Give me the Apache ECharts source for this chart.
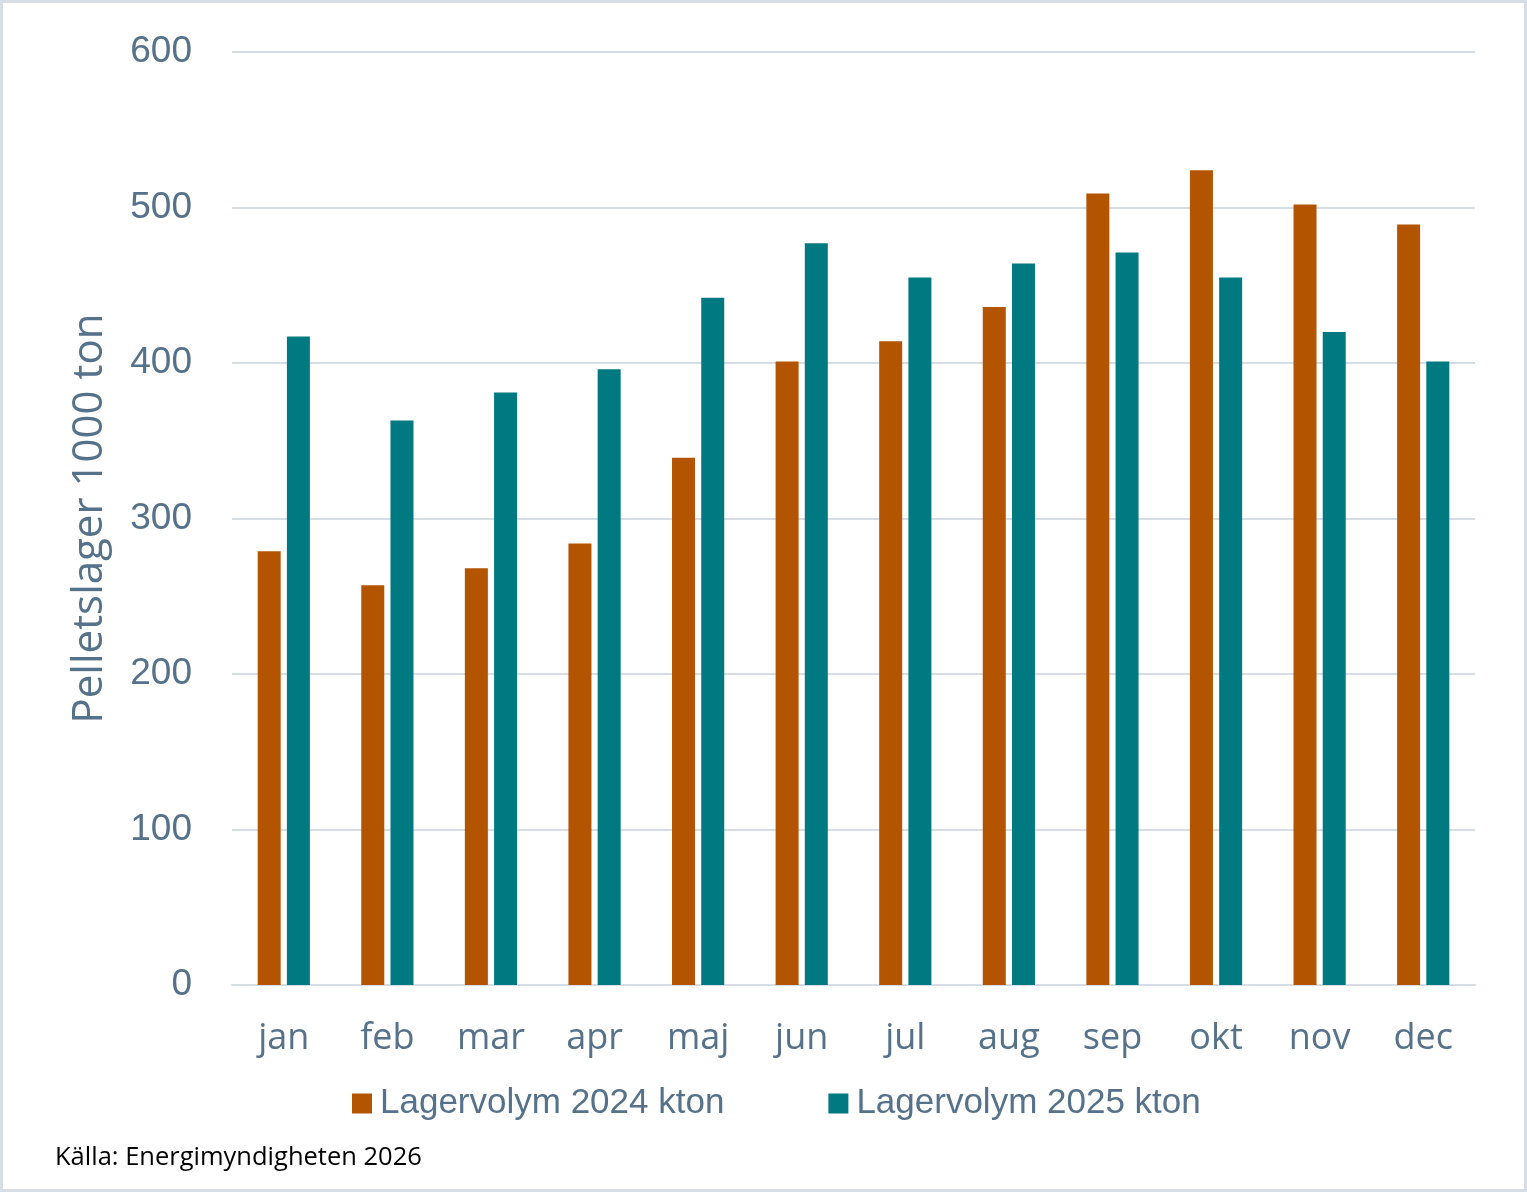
<!DOCTYPE html>
<html><head><meta charset="utf-8">
<script src="https://cdn.jsdelivr.net/npm/echarts@6/dist/echarts.min.js"></script>
<style>html,body{margin:0;padding:0;background:#fff}#c{width:1527px;height:1192px}</style>
</head><body><div id="c"></div>
<script>
const categories = ['jan','feb','mar','apr','maj','jun','jul','aug','sep','okt','nov','dec'];
const series2024 = [279, 257, 268, 284, 339, 401, 414, 436, 509, 524, 502, 489];
const series2025 = [417, 363, 381, 396, 442, 477, 455, 464, 471, 455, 420, 401];
const seriesNames = ['Lagervolym 2024 kton', 'Lagervolym 2025 kton'];
const yAxisName = 'Pelletslager 1000 ton';
const sourceText = 'Källa: Energimyndigheten 2026';

const chart = echarts.init(document.getElementById('c'));
const axisColor = '#56718a';
chart.setOption({
  animation: false,
  backgroundColor: '#fff',
  color: ['#b35400', '#007a80'],
  grid: {left: 232, right: 52, top: 52, bottom: 207, containLabel: false},
  legend: {
    data: seriesNames, bottom: 66, left: 347, itemWidth: 20, itemHeight: 20, itemGap: 104,
    icon: 'rect',
    textStyle: {color: axisColor, fontSize: 35, fontFamily: 'Liberation Sans, Arial, sans-serif', padding: [0,0,0,3]}
  },
  xAxis: {
    type: 'category', data: categories,
    axisLine: {lineStyle: {color: '#d6dde5', width: 2}},
    axisTick: {show: false},
    axisLabel: {color: axisColor, fontSize: 36, margin: 36, fontFamily: 'Open Sans, sans-serif'}
  },
  yAxis: {
    type: 'value', min: 0, max: 600, interval: 100,
    name: yAxisName, nameLocation: 'middle', nameGap: 121, nameRotate: 90,
    nameTextStyle: {color: axisColor, fontSize: 42, fontFamily: 'Open Sans, sans-serif'},
    axisLine: {show: false}, axisTick: {show: false},
    axisLabel: {color: axisColor, fontSize: 37, margin: 40, fontFamily: 'Liberation Sans, Arial, sans-serif'},
    splitLine: {lineStyle: {color: '#d6dde5', width: 2}}
  },
  series: [
    {name: seriesNames[0], type: 'bar', data: series2024, barWidth: 23, barGap: '27%'},
    {name: seriesNames[1], type: 'bar', data: series2025, barWidth: 23, barGap: '27%'}
  ],
  graphic: [
    {type: 'rect', shape: {x: 1.5, y: 1.5, width: 1524, height: 1189}, style: {fill: 'none', stroke: '#d6dde5', lineWidth: 3}, silent: true},
    {type: 'text', left: 55, top: 1145, style: {text: sourceText, fill: '#000', fontSize: 25.5, fontFamily: 'Open Sans, sans-serif'}}
  ]
});
</script></body></html>
